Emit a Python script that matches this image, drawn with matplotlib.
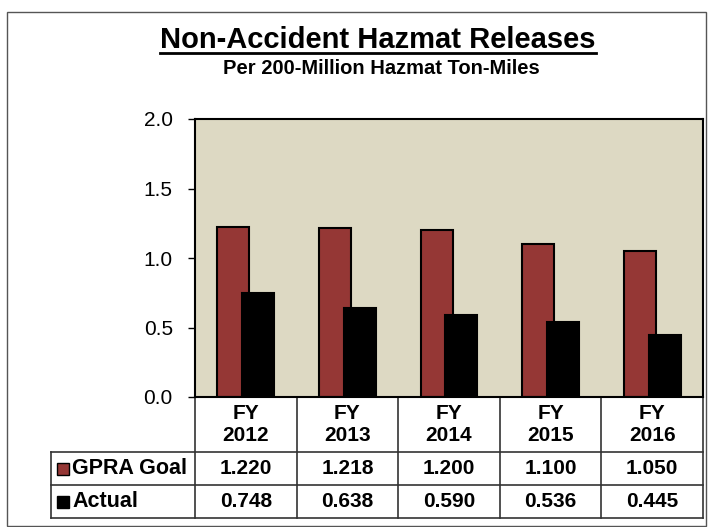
import matplotlib
matplotlib.use("Agg")
import matplotlib.pyplot as plt
import numpy as np
from matplotlib.lines import Line2D
from matplotlib.patches import Rectangle

plt.rcParams["font.family"] = ["Liberation Sans", "DejaVu Sans"]

YEARS = ["FY\n2012", "FY\n2013", "FY\n2014", "FY\n2015", "FY\n2016"]
GPRA_GOAL = [1.220, 1.218, 1.200, 1.100, 1.050]
ACTUAL = [0.748, 0.638, 0.590, 0.536, 0.445]
SERIES = [("GPRA Goal", GPRA_GOAL, "#953735"), ("Actual", ACTUAL, "#000000")]

BG = "#DDD9C3"
W, H = 708, 527


def main() -> None:
    fig = plt.figure(figsize=(W / 100, H / 100), dpi=100)
    fig.patch.set_facecolor("white")

    # outer chart frame
    fig.add_artist(Rectangle((7 / W, 0.002), 699 / W, 1 - 12 / H - 0.002,
                             transform=fig.transFigure, fill=False,
                             edgecolor="#555555", linewidth=1.0))

    left, right, top, bottom = 195, 703, 119, 397
    ax = fig.add_axes([left / W, 1 - bottom / H, (right - left) / W, (bottom - top) / H])
    ax.set_facecolor(BG)

    x = np.arange(len(YEARS))
    off, bw = 0.123, 0.315
    ax.bar(x - off, GPRA_GOAL, width=bw, color=SERIES[0][2], edgecolor="black", linewidth=1.5, zorder=2)
    ax.bar(x + off, ACTUAL, width=bw, color=SERIES[1][2], edgecolor="black", linewidth=1.5, zorder=3)

    ax.set_xlim(-0.5, len(YEARS) - 0.5)
    ax.set_ylim(0, 2.0)
    ax.set_yticks(np.arange(0, 2.01, 0.5))
    ax.set_yticklabels([f"{v:.1f}" for v in np.arange(0, 2.01, 0.5)])
    ax.tick_params(axis="y", labelsize=15, length=5, width=1, pad=11, direction="out")
    ax.set_xticks([])
    for s in ax.spines.values():
        s.set_linewidth(1.5)
        s.set_color("black")

    # data table below the plot
    ax_h = bottom - top
    ax_w = right - left
    y_head = -(452 - bottom) / ax_h
    y_row1 = -(485 - bottom) / ax_h
    y_row2 = -(518 - bottom) / ax_h
    x_lab = -(left - 51) / ax_w

    xt = ax.get_xaxis_transform()
    lkw = dict(color="#333333", linewidth=1.2, clip_on=False)
    for b in np.arange(-0.5, len(YEARS), 1.0):
        ax.plot([b, b], [0, y_row2], transform=xt, **lkw)
    ax.plot([x_lab, 1], [y_head, y_head], transform=ax.transAxes, **lkw)
    ax.plot([x_lab, 1], [y_row1, y_row1], transform=ax.transAxes, **lkw)
    ax.plot([x_lab, 1], [y_row2, y_row2], transform=ax.transAxes, **lkw)
    ax.plot([x_lab, x_lab], [y_head, y_row2], transform=ax.transAxes, **lkw)

    for i, lab in enumerate(YEARS):
        ax.text(x[i], y_head / 2, lab, transform=xt, ha="center", va="center",
                fontsize=15, fontweight="bold", linespacing=1.2)

    row_y = [(y_head + y_row1) / 2, (y_row1 + y_row2) / 2]
    for (name, vals, col), ry in zip(SERIES, row_y):
        for i, v in enumerate(vals):
            ax.text(x[i], ry, f"{v:.3f}", transform=xt, ha="center", va="center",
                    fontsize=15, fontweight="bold")
        ax.add_patch(Rectangle((x_lab + 6 / ax_w, ry - 6 / ax_h), 12 / ax_w, 12 / ax_h,
                               transform=ax.transAxes, facecolor=col, edgecolor="black",
                               linewidth=1.0, clip_on=False))
        ax.text(x_lab + 21 / ax_w, ry, name, transform=ax.transAxes, ha="left", va="center",
                fontsize=15.5, fontweight="bold")

    title = fig.text(378 / W, 1 - 48 / H, "Non-Accident Hazmat Releases", ha="center",
                     va="baseline", fontsize=21, fontweight="bold")
    fig.text(381 / W, 1 - 68 / H, "Per 200-Million Hazmat Ton-Miles", ha="center",
             va="center", fontsize=14.5, fontweight="bold")

    fig.canvas.draw()
    bb = title.get_window_extent()
    fw, fh = fig.bbox.width, fig.bbox.height
    uy = (bb.y0 + 1) / fh
    fig.add_artist(Line2D([bb.x0 / fw, bb.x1 / fw], [uy, uy],
                          transform=fig.transFigure, color="black", linewidth=2.0))

    fig.savefig("out.png", dpi=100)
    plt.close(fig)


if __name__ == "__main__":
    main()
